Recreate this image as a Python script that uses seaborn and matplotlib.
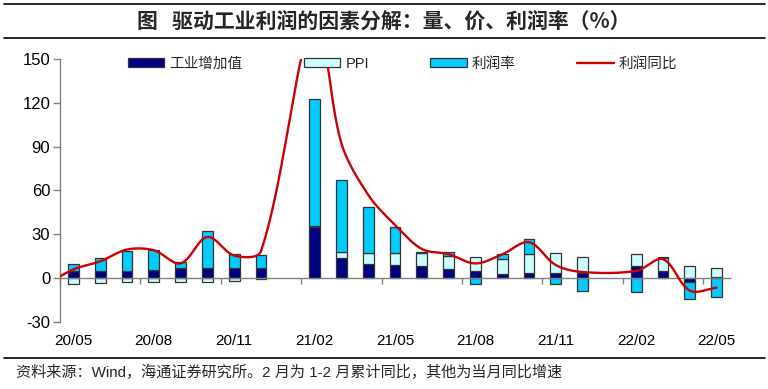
import numpy as np
import matplotlib
matplotlib.use("Agg")
import matplotlib.pyplot as plt
from matplotlib.patches import Patch
from matplotlib.lines import Line2D
from matplotlib.font_manager import FontProperties
import seaborn as sns

# ---------------- data ----------------
months = ["20/05", "20/06", "20/07", "20/08", "20/09", "20/10", "20/11", "20/12",
          "21/01", "21/02", "21/03", "21/04", "21/05", "21/06", "21/07", "21/08",
          "21/09", "21/10", "21/11", "21/12", "22/01", "22/02", "22/03", "22/04", "22/05"]
nan = np.nan
iva = [4.6, 5.0, 5.0, 5.7, 7.3, 7.1, 7.0, 7.1, nan, 34.9, 13.9, 9.6, 8.9, 8.3, 6.4, 4.8,
       3.0, 3.6, 3.6, 3.6, nan, 8.0, 4.8, -2.3, 0.7]
ppi = [-3.9, -3.0, -2.5, -2.5, -2.3, -2.3, -1.6, -0.7, nan, 1.1, 4.1, 7.3, 8.4, 8.8, 9.0, 10.0,
       10.2, 13.0, 13.3, 10.8, nan, 8.2, 9.1, 8.2, 6.1]
margin = [5.2, 8.7, 13.9, 13.9, 3.6, 25.5, 9.6, 8.9, nan, 86.7, 49.3, 31.9, 18.0, 0.6, 2.7, -4.1,
          3.2, 10.3, -4.3, -9.1, nan, -9.8, 0.5, -11.8, -13.2]
# profit YoY line (includes 20/04 before the first category)
line_months = ["20/04"] + months
profit = [-4.3, 6.0, 11.5, 19.6, 19.1, 10.1, 28.2, 15.5, 18.5, nan, 178.9, 92.3, 57.0, 36.4,
          20.0, 16.4, 10.1, 16.3, 24.6, 9.0, 4.2, nan, 5.0, 13.0, -8.5, -6.5]
tick_labels = months[::3]

series_names = ["工业增加值", "PPI", "利润率", "利润同比"]
colors = ["#000080", "#CCFFFF", "#00CCFF", "#CC0000"]

# ---------------- style ----------------
sns.set_theme(style="white")
plt.rcParams["font.family"] = ["Liberation Sans", "Noto Sans CJK SC", "DejaVu Sans"]
plt.rcParams["axes.unicode_minus"] = False

W, H = 768, 389
fig = plt.figure(figsize=(W / 100, H / 100), dpi=100)
ax = fig.add_axes([60 / W, 1 - 322 / H, 670 / W, 263 / H])

x = np.arange(len(months))
pos_bottom = np.zeros(len(x))
neg_bottom = np.zeros(len(x))
for vals, col in zip([iva, ppi, margin], colors[:3]):
    v = np.array(vals, dtype=float)
    valid = ~np.isnan(v)
    vv = np.where(valid, v, 0.0)
    bottom = np.where(vv >= 0, pos_bottom, neg_bottom)
    ax.bar(x[valid], vv[valid], bottom=bottom[valid], width=0.4, color=col,
           edgecolor="#333333", linewidth=0.9, zorder=2)
    pos_bottom = pos_bottom + np.where(vv > 0, vv, 0)
    neg_bottom = neg_bottom + np.where(vv < 0, vv, 0)

# smoothed line (Excel-like chord-weighted Bezier smoothing through the data points)
lx = np.arange(len(line_months)) - 1.0
ly = np.array(profit, dtype=float)
ok = ~np.isnan(ly)
SX, SY = 26.8, 1.462
P = np.column_stack([lx[ok] * SX, ly[ok] * SY])
n = len(P)
curve = []
t = np.linspace(0, 1, 60)[:, None]
dist = lambda a, b: float(np.hypot(*(b - a)))
for i in range(n - 1):
    p1, p2 = P[i], P[i + 1]
    p0 = P[i - 1] if i > 0 else p1
    p3 = P[i + 2] if i + 2 < n else p2
    d01, d12, d23 = dist(p0, p1), dist(p1, p2), dist(p2, p3)
    c1 = p1 + (p2 - p0) / 6.0 * (2 * d12 / (d01 + d12))
    c2 = p2 - (p3 - p1) / 6.0 * (2 * d12 / (d12 + d23))
    seg = ((1 - t) ** 3) * p1 + 3 * ((1 - t) ** 2) * t * c1 + 3 * (1 - t) * t ** 2 * c2 + t ** 3 * p2
    curve.append(seg)
curve = np.vstack(curve)
sns.lineplot(x=curve[:, 0] / SX, y=curve[:, 1] / SY, sort=False, ax=ax,
             color=colors[3], linewidth=1.7, zorder=5, estimator=None)

# ---------------- axes ----------------
ax.set_xlim(-0.5, 24.5)
ax.set_ylim(-30, 150)
ax.set_yticks(np.arange(-30, 151, 30))
ax.set_xticks(x[::3])
ax.set_xticklabels(tick_labels)
ax.set_xticks(np.arange(-0.5, 24.5, 3), minor=True)
ax.set_xlabel("")
ax.set_ylabel("")
for s in ["top", "right"]:
    ax.spines[s].set_visible(False)
ax.spines["bottom"].set_position(("data", 0))
for s in ["bottom", "left"]:
    ax.spines[s].set_color("#808080")
    ax.spines[s].set_linewidth(1.0)
    ax.spines[s].set_zorder(3)
ax.tick_params(axis="x", which="major", length=0, pad=40, labelsize=11, labelcolor="black")
ax.tick_params(axis="x", which="minor", length=4, width=1, color="#808080", direction="out",
               bottom=True)
ax.tick_params(axis="y", which="major", length=5, width=1, color="#808080", direction="out",
               left=True, pad=2, labelsize=12, labelcolor="black")
ax.grid(False)
ax.set_facecolor("white")

# ---------------- legend ----------------
handles = [Patch(facecolor=c, edgecolor="#333333", linewidth=0.9) for c in colors[:3]]
handles.append(Line2D([0], [0], color=colors[3], linewidth=1.7))
fig.legend(handles, series_names, loc="center left", bbox_to_anchor=(128 / W, 1 - 64 / H),
           ncol=4, frameon=False, handlelength=2.5, handleheight=0.55, handletextpad=0.35,
           columnspacing=4.2, borderpad=0, borderaxespad=0,
           prop=FontProperties(family=["Liberation Sans", "Noto Sans CJK SC"], size=10.5))

# ---------------- title & footer ----------------
fig.text(0.5, 1 - 21 / H, "图   驱动工业利润的因素分解：量、价、利润率（%）", ha="center",
         va="center", fontsize=15, fontweight="bold", family=["Noto Sans CJK SC", "DejaVu Sans"])
for yy in (4, 38, 358):
    fig.add_artist(Line2D([4 / W, 765 / W], [1 - yy / H] * 2, color="black", linewidth=1.2,
                          transform=fig.transFigure))
fig.text(16 / W, 1 - 372 / H, "资料来源：Wind，海通证券研究所。2 月为 1-2 月累计同比，其他为当月同比增速",
         ha="left", va="center", fontsize=10.9,
         family=["Liberation Sans", "Noto Sans CJK SC"])

fig.savefig("out.png", dpi=100, facecolor="white")
